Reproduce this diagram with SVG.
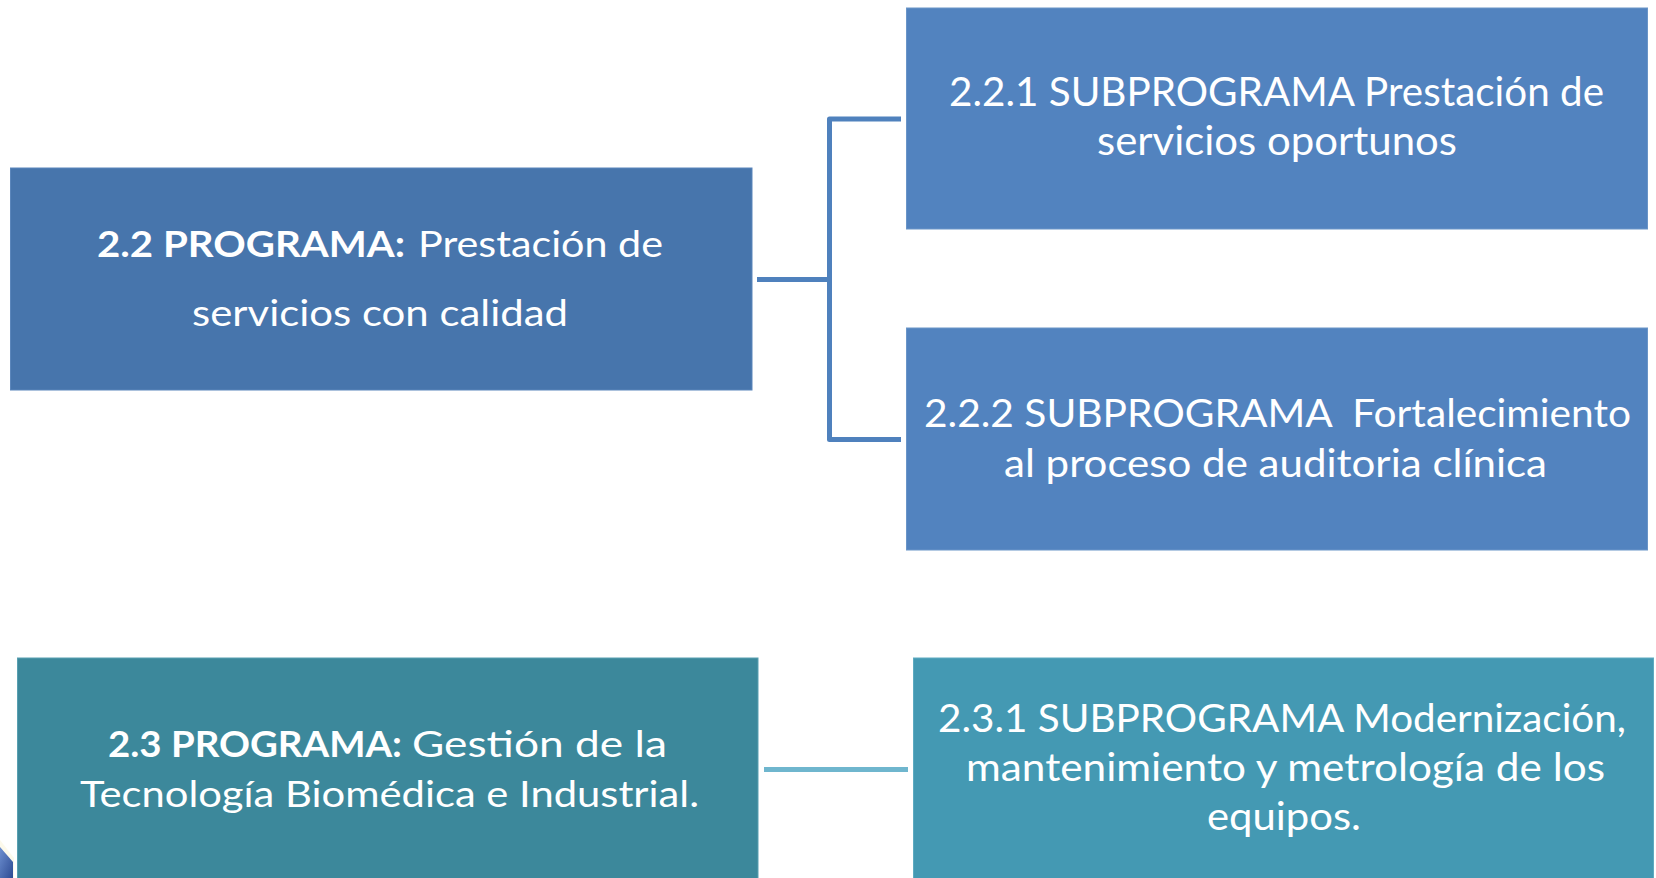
<svg xmlns="http://www.w3.org/2000/svg" width="1656" height="878" viewBox="0 0 1656 878">
  <defs>
    <linearGradient id="deco" x1="0" y1="0" x2="1" y2="1">
      <stop offset="0" stop-color="#6d8fd0"/>
      <stop offset="1" stop-color="#2d4b93"/>
    </linearGradient>
    <style>
      .t { font-family: Lato, "Liberation Sans", sans-serif; fill: #ffffff; }
      .b { font-weight: bold; }
      .lengthfix { lengthAdjust: spacingAndGlyphs; }
      .conn1 { fill: none; stroke: #4f81bd; stroke-width: 5; stroke-linejoin: round; }
      .conn2 { fill: none; stroke: #6fb6ce; stroke-width: 5; }
    </style>
  </defs>
  <rect width="1656" height="878" fill="#ffffff"/>

  <!-- decoration bottom-left -->
  <path d="M0,840 L14,858 L14,878 L0,878 Z" fill="#fbf7e6" opacity="0.8"/>
  <path d="M0,847 L13,862 L13,878 L0,878 Z" fill="url(#deco)"/>

  <g id="connectors">
    <path class="conn1" d="M757,279.5 H829.5"/>
    <path class="conn1" d="M901,119 H829.5 V439.5 H901"/>
    <path class="conn2" d="M764,769.5 H908"/>
  </g>

  <g id="node-2-2">
    <rect x="10.5" y="168" width="741.5" height="222" fill="#4775ac" stroke="#5b86bb" stroke-width="1"/>
    <text class="t b" x="97" y="257" font-size="36" textLength="308" lengthAdjust="spacingAndGlyphs">2.2 PROGRAMA:</text>
    <text class="t" x="418" y="257" font-size="36" textLength="245" lengthAdjust="spacingAndGlyphs">Prestación de</text>
    <text class="t" x="192" y="326" font-size="36" textLength="376" lengthAdjust="spacingAndGlyphs">servicios con calidad</text>
  </g>

  <g id="node-2-2-1">
    <rect x="906.5" y="8" width="741" height="221" fill="#5283bf" stroke="#6a95c8" stroke-width="1"/>
    <text class="t" x="949" y="106" font-size="40" textLength="655" lengthAdjust="spacingAndGlyphs">2.2.1 SUBPROGRAMA Prestación de</text>
    <text class="t" x="1097" y="155" font-size="40" textLength="360" lengthAdjust="spacingAndGlyphs">servicios oportunos</text>
  </g>

  <g id="node-2-2-2">
    <rect x="906.5" y="328" width="741" height="222" fill="#5283bf" stroke="#6a95c8" stroke-width="1"/>
    <text class="t" x="924" y="427" font-size="38" textLength="707" lengthAdjust="spacingAndGlyphs" xml:space="preserve">2.2.2 SUBPROGRAMA  Fortalecimiento</text>
    <text class="t" x="1004" y="477" font-size="38" textLength="543" lengthAdjust="spacingAndGlyphs">al proceso de auditoria clínica</text>
  </g>

  <g id="node-2-3">
    <rect x="17.5" y="658" width="740.5" height="222" fill="#3c889b" stroke="#58a0b1" stroke-width="1"/>
    <text class="t b" x="108" y="757" font-size="36" textLength="294" lengthAdjust="spacingAndGlyphs">2.3 PROGRAMA:</text>
    <text class="t" x="412" y="757" font-size="36" textLength="255" lengthAdjust="spacingAndGlyphs">Gestión de la</text>
    <text class="t" x="80" y="807" font-size="36" textLength="619" lengthAdjust="spacingAndGlyphs">Tecnología Biomédica e Industrial.</text>
  </g>

  <g id="node-2-3-1">
    <rect x="913.5" y="658" width="740" height="222" fill="#4499b3" stroke="#5eabc1" stroke-width="1"/>
    <text class="t" x="938" y="732" font-size="38" textLength="688" lengthAdjust="spacingAndGlyphs">2.3.1 SUBPROGRAMA Modernización,</text>
    <text class="t" x="966" y="781" font-size="38" textLength="639" lengthAdjust="spacingAndGlyphs">mantenimiento y metrología de los</text>
    <text class="t" x="1207" y="830" font-size="38" textLength="154" lengthAdjust="spacingAndGlyphs">equipos.</text>
  </g>
</svg>
